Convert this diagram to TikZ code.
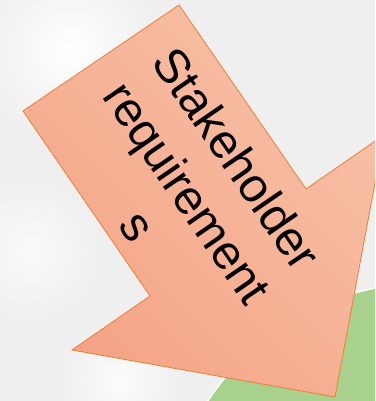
\documentclass[tikz,border=0pt]{standalone}
\usepackage{fontspec}
\setmainfont{Liberation Sans}
\usepackage{tikz}
\definecolor{bggray}{HTML}{EFEFEF}
\definecolor{arrowdark}{HTML}{F4A486}
\definecolor{arrowlight}{HTML}{F8C1A7}
\definecolor{arrowedge}{HTML}{ED7D31}
\definecolor{leafgreen}{HTML}{A9D18E}

\begin{document}
\begin{tikzpicture}[x=1pt,y=-1pt]
  \useasboundingbox (0,0) rectangle (375,401);
  \clip (0,0) rectangle (375,401);
  \fill[bggray] (0,0) rectangle (375,401);
  % light cloudy patches on the left
  \shade[inner color=white,outer color=bggray] (70,50) circle (90);
  \shade[inner color=white!70!bggray,outer color=bggray] (30,250) circle (70);
  \shade[inner color=white!80!bggray,outer color=bggray] (120,380) circle (60);
  % green area at the bottom right
  \fill[leafgreen,draw=white,line width=1.5pt] (205,405) .. controls (250,337) and (300,303) .. (380,287) -- (380,405) -- cycle;
  % big arrow
  \shade[left color=arrowdark,right color=arrowlight,shading angle=135,draw=arrowedge,line width=0.8pt]
    (179,5) -- (306,189) -- (384,135) -- (335,397) -- (72,350) -- (150,296) -- (23,111) -- cycle;
  \node[rotate=-55.5,align=center,font=\fontsize{48}{60}\selectfont,inner sep=0pt] (label) at (188,192) {Stakeholder\\requirement\\s};
\end{tikzpicture}
\end{document}
